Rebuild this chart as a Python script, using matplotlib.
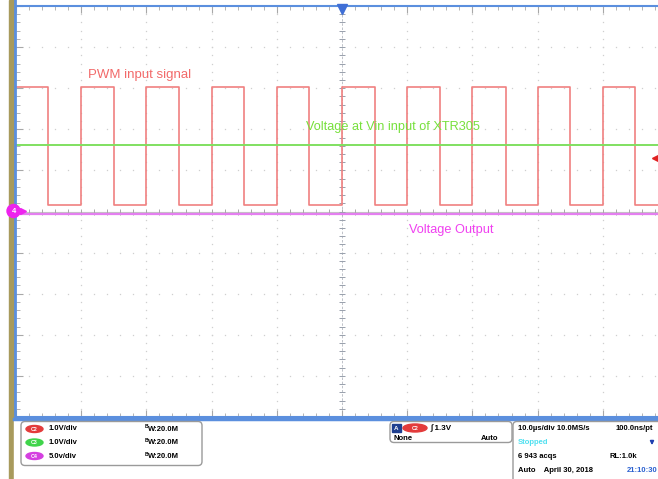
import numpy as np
import matplotlib.pyplot as plt
from matplotlib.patches import Rectangle, FancyBboxPatch, Ellipse, Circle

plt.rcParams['font.family'] = ['Liberation Sans', 'DejaVu Sans']

# time base: 10 us/div, screen -50..50 us ; vertical in divisions
rise_us = [-40, -30, -20, -10, 0, 10, 20, 30, 40]
fall_us = [-45.1, -35.0, -25.0, -15.1, -5.0, 5.0, 15.0, 25.1, 35.0, 45.0]
pwm_high = 3.04
pwm_low = 0.16
vin_level = 1.62
vout_level = -0.06
trig_level = 1.30

labels = ["PWM input signal", "Voltage at Vin input of XTR305", "Voltage Output"]
ch_names = ["C2", "C3", "C4"]
ch_scale = ["1.0V/div", "1.0V/div", "5.0v/div"]
ch_bw = ["W:20.0M", "W:20.0M", "W:20.0M"]

red = '#f08080'
green = '#80e060'
pink = '#e47ff0'
blue = '#5b8fde'
olive = '#a89a5c'

W, H = 658, 479
fig = plt.figure(figsize=(W / 100, H / 100), dpi=100)

# main scope grid
left, right, top, bot = 16, 16 + 652, 6, 417
ax = fig.add_axes([left / W, 1 - bot / H, (right - left) / W, (bot - top) / H])
ax.set_xlim(-50, 50)
ax.set_ylim(-5, 5)
for s in ax.spines.values():
    s.set_color(blue)
    s.set_linewidth(1.5)
ax.spines['left'].set_visible(False)
ax.set_xticks(np.arange(-50, 51, 10))
ax.set_xticks(np.arange(-50, 51, 2), minor=True)
ax.set_yticks(np.arange(-5, 6, 1))
ax.set_yticks(np.arange(-5, 5.01, 0.2), minor=True)
ax.tick_params(which='both', direction='in', colors='#a8a8a8', labelleft=False,
               labelbottom=False, top=True, left=True, right=False)
ax.tick_params(which='major', length=5, width=0.8)
ax.tick_params(which='minor', length=3, width=0.6)

dot = dict(color='#cfcfcf', ls='none', marker='s', ms=0.9, mew=0, zorder=1)
for gx in range(-40, 50, 10):
    if gx != 0:
        ys = np.arange(-5, 5.01, 0.2)
        ax.plot(np.full_like(ys, gx), ys, **dot)
for gy in range(-4, 5):
    if gy != 0:
        xs = np.arange(-50, 50.01, 2)
        ax.plot(xs, np.full_like(xs, gy), **dot)

# center cross with ticks
ax.axhline(0, color='#c4c4c4', lw=0.8, zorder=1)
ax.axvline(0, color='#b4b8c0', lw=0.6, ls=(0, (3, 2)), zorder=1)
xs = np.arange(-50, 50.01, 2)
ax.plot(xs, np.zeros_like(xs), ls='none', marker='|', ms=4, color='#a8a8a8', mew=0.7, zorder=1)
ys = np.arange(-5, 5.01, 0.2)
ax.plot(np.zeros_like(ys), ys, ls='none', marker='_', ms=4, color='#98a0ac', mew=0.7, zorder=1)

# PWM waveform built from the read edge times
edges = sorted([(t, pwm_high) for t in rise_us] + [(t, pwm_low) for t in fall_us])
tx, ty = [-50], [pwm_high]
for t, lvl in edges:
    tx += [t, t]
    ty += [ty[-1], lvl]
tx.append(50)
ty.append(ty[-1])
ax.plot(tx, ty, color=red, lw=1.2, zorder=3)
ax.axhline(vin_level, color=green, lw=1.4, zorder=4)
ax.axhline(vout_level, color=pink, lw=1.6, zorder=4)

ax.text(-38.9, 3.25, labels[0], color='#f26a6a', fontsize=9.5, va='baseline')
ax.text(-5.5, 1.98, labels[1], color='#77e03c', fontsize=9.2, va='baseline')
ax.text(10.3, -0.44, labels[2], color='#f040f0', fontsize=9.2, va='center')

ax.plot([0], [4.93], marker='v', ms=7, color='#3f6fd6', clip_on=False, zorder=6)
ax.plot([48.0], [trig_level], marker='<', ms=5, color='#e02020', clip_on=False, zorder=6)

# pixel overlay for the frame, markers and status panels
deco = fig.add_axes([0, 0, 1, 1])
deco.set_xlim(0, W)
deco.set_ylim(H, 0)
deco.axis('off')
deco.add_patch(Rectangle((9, 0), 5, H, color=olive, zorder=1))
deco.plot([14.5, 14.5], [0, 418], color=blue, lw=2, zorder=2)
deco.plot([14, W], [418.5, 418.5], color=blue, lw=2.5, zorder=2)
deco.add_patch(Rectangle((14, 419.8), W, 60, color='white', zorder=1))

deco.add_patch(Circle((13.5, 211), 6.5, color='#ee22ee', zorder=6))
deco.text(13.5, 211.5, "4", color='white', fontsize=5.5, ha='center', va='center',
          fontweight='bold', zorder=7)
deco.plot([22.5], [211], marker='>', ms=4.5, color='#ee22ee', zorder=6)

# channel panel
badge = ['#e33b3b', '#3fd44a', '#d43fe0']
deco.add_patch(FancyBboxPatch((21, 421.5), 181, 44, boxstyle='round,pad=0,rounding_size=4',
                              fc='white', ec='#9a9a9a', lw=1, zorder=3))
for i in range(3):
    y = 429 + i * 13.5
    deco.add_patch(Ellipse((34.5, y), 17, 7, color=badge[i], zorder=4))
    deco.text(34.5, y + 0.3, ch_names[i], color='white', fontsize=3.8, ha='center',
              va='center', fontweight='bold', zorder=5)
    deco.text(49, y, ch_scale[i], fontsize=5.5, fontweight='bold', va='center', zorder=5)
    deco.text(145, y - 2, "B", fontsize=3.6, fontweight='bold', va='center', zorder=5)
    deco.text(148, y + 0.5, ch_bw[i], fontsize=5.5, fontweight='bold', va='center', zorder=5)

# trigger panel
deco.add_patch(FancyBboxPatch((390, 421.5), 122, 21, boxstyle='round,pad=0,rounding_size=4',
                              fc='white', ec='#9a9a9a', lw=1, zorder=3))
deco.add_patch(Rectangle((392, 424), 9, 8, color='#1f3f8f', zorder=4))
deco.text(396.5, 428.3, "A", color='white', fontsize=4.5, ha='center', va='center',
          fontweight='bold', zorder=5)
deco.add_patch(Ellipse((415, 428), 24, 8, color='#e33b3b', zorder=4))
deco.text(415, 428.3, "C2", color='white', fontsize=3.8, ha='center', va='center',
          fontweight='bold', zorder=5)
deco.text(431, 428, "\u222b 1.3V", fontsize=5.8, fontweight='bold', va='center', zorder=5)
deco.text(393, 438, "None", fontsize=5.5, fontweight='bold', va='center', zorder=5)
deco.text(481, 438, "Auto", fontsize=5.5, fontweight='bold', va='center', zorder=5)

# acquisition panel
deco.add_patch(FancyBboxPatch((513, 421.5), 160, 70, boxstyle='round,pad=0,rounding_size=4',
                              fc='white', ec='#9a9a9a', lw=1, zorder=3))
deco.text(518, 429, "10.0\u00b5s/div 10.0MS/s", fontsize=5.5, fontweight='bold', va='center', zorder=5)
deco.text(616, 429, "100.0ns/pt", fontsize=5.5, fontweight='bold', va='center', zorder=5)
deco.text(518, 443, "Stopped", fontsize=5.5, fontweight='bold', color='#4fe0f0', va='center', zorder=5)
deco.annotate("", xy=(652, 448), xytext=(652, 438),
              arrowprops=dict(arrowstyle='-|>', color='#2040b0', lw=1.2, mutation_scale=5), zorder=5)
deco.text(518, 456, "6 943 acqs", fontsize=5.5, fontweight='bold', va='center', zorder=5)
deco.text(610, 456, "RL:1.0k", fontsize=5.5, fontweight='bold', va='center', zorder=5)
deco.text(518, 470, "Auto    April 30, 2018", fontsize=5.5, fontweight='bold', va='center', zorder=5)
deco.text(627, 470, "21:10:30", fontsize=5.5, fontweight='bold', color='#2a60d0', va='center', zorder=5)

fig.savefig('out.png', dpi=100)
